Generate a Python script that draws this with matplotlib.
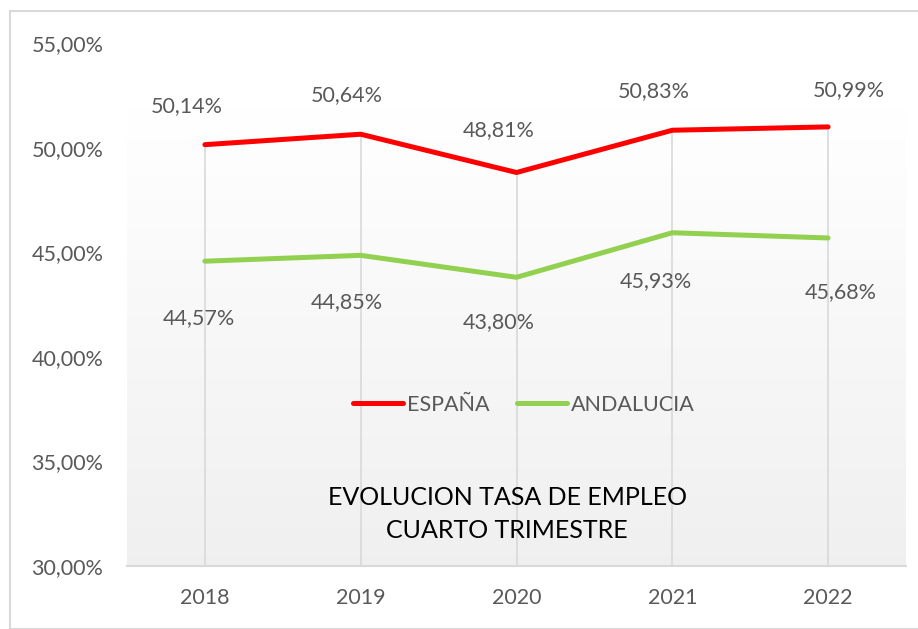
import matplotlib
matplotlib.use("Agg")
import matplotlib.pyplot as plt
import numpy as np
from matplotlib.patches import Rectangle

years = ["2018", "2019", "2020", "2021", "2022"]
espana = [50.14, 50.64, 48.81, 50.83, 50.99]
andalucia = [44.57, 44.85, 43.80, 45.93, 45.68]
yticks = [30, 35, 40, 45, 50, 55]

esp_off = [(-18, 39), (-14, 39), (-18, 42), (-19, 39), (21, 37)]
and_off = [(-6, -57), (-14, -47), (-18, -45), (-16, -48), (13, -54)]

plt.rcParams['font.family'] = ['Lato', 'DejaVu Sans']
W, H = 918, 629
fig = plt.figure(figsize=(W/100, H/100), dpi=100)
fig.patch.set_facecolor('white')
fig.add_artist(Rectangle((10/W, 0), 1.2, (H-11)/H, transform=fig.transFigure,
                         fill=False, edgecolor='#d9d9d9', lw=1.5))

x0, x1, ytop, ybot = 127, 906, 43, 566
ax = fig.add_axes([x0/W, 1-ybot/H, (x1-x0)/W, (ybot-ytop)/H])
x = np.arange(len(years))

gtop = 30 + (ybot-110)/((ybot-ytop)/25)
grad = np.linspace(1.0, 0.0, 256).reshape(-1, 1)
top = np.array([1, 1, 1]); bot = np.array([0.94, 0.94, 0.94])
img = top*grad[..., None] + bot*(1-grad[..., None])
img = img.reshape(256, 1, 3)
ax.imshow(img, extent=(-0.5, len(years)-0.5, 30, gtop), aspect='auto', zorder=0)
ax.set_xlim(-0.5, len(years)-0.5)
ax.set_ylim(30, 55)

# drop lines
ax.vlines(x, 30, espana, color='#d9d9d9', lw=1.2, zorder=1)

ax.plot(x, espana, color='#ff0000', lw=3.6, solid_capstyle='round', zorder=3, label='ESPAÑA')
ax.plot(x, andalucia, color='#92d050', lw=3.6, solid_capstyle='round', zorder=3, label='ANDALUCIA')

def fmt(v):
    return f"{v:.2f}".replace('.', ',') + '%'

FS = 15.5
for xi, v, (dx, dy) in zip(x, espana, esp_off):
    ax.annotate(fmt(v), (xi, v), xytext=(dx, dy), textcoords='offset pixels',
                ha='center', va='center', fontsize=FS, color='#595959')
for xi, v, (dx, dy) in zip(x, andalucia, and_off):
    ax.annotate(fmt(v), (xi, v), xytext=(dx, dy), textcoords='offset pixels',
                ha='center', va='center', fontsize=FS, color='#595959')

ax.set_xticks(x)
ax.set_xticklabels(years)
ax.set_yticks(yticks)
ax.set_yticklabels([fmt(t) for t in yticks])
ax.tick_params(axis='both', length=0, labelsize=FS, colors='#595959')
ax.tick_params(axis='x', pad=16)
ax.tick_params(axis='y', pad=17)
for s in ['top', 'right', 'left']:
    ax.spines[s].set_visible(False)
ax.spines['bottom'].set_color('#d9d9d9')
ax.spines['bottom'].set_linewidth(1.5)

leg = ax.legend(loc='center', bbox_to_anchor=((524-x0)/(x1-x0), (ybot-405)/(ybot-ytop)),
                ncol=2, frameon=False, fontsize=FS, handlelength=2.3, columnspacing=1.3,
                handletextpad=0.2)
for t in leg.get_texts():
    t.set_color('#595959')

ax.text((507-x0)/(x1-x0), (ybot-514)/(ybot-ytop), "EVOLUCION TASA DE EMPLEO\nCUARTO TRIMESTRE",
        transform=ax.transAxes, ha='center', va='center', fontsize=18, color='black',
        linespacing=1.5)

fig.savefig('out.png', dpi=100)
